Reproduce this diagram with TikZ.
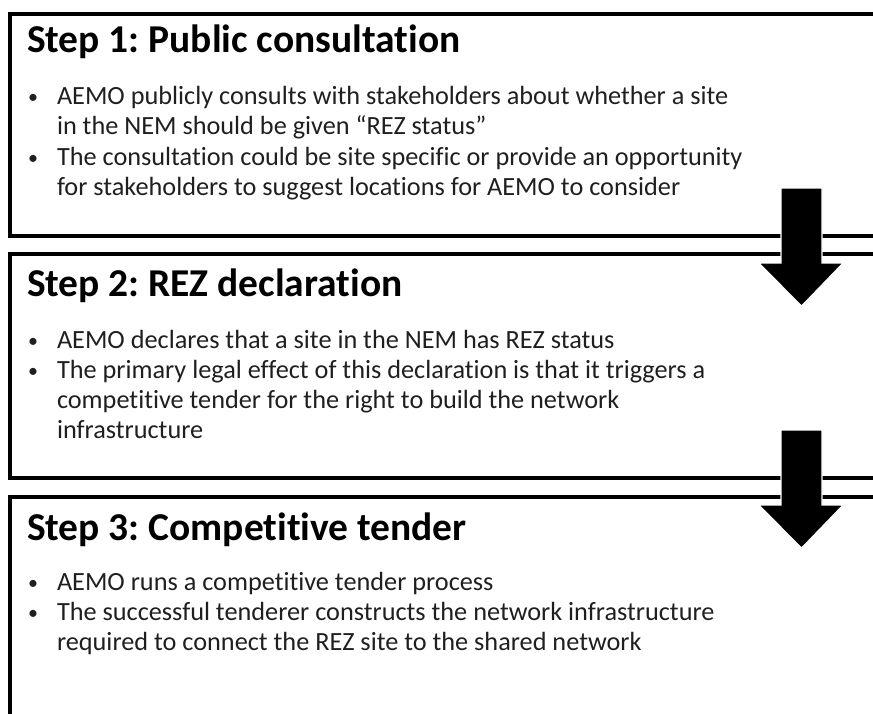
\documentclass[tikz,border=0pt]{standalone}
\usepackage{fontspec}
\setmainfont{Carlito}[Ligatures=NoCommon]
\usetikzlibrary{calc}
\frenchspacing

% lines of one bullet in a top-aligned tabular, so base = first line
\newcommand\itemlines[1]{\begin{tabular}[t]{@{}l@{}}#1\end{tabular}}

\begin{document}
\begin{tikzpicture}[
        % one unit is one pixel, y runs downwards
        x=0.75pt, y=-0.75pt,
        every node/.style={inner sep=0pt, outer sep=0pt},
        stepbox/.style={draw=black, line width=2.3pt},
        steptitle/.style={anchor=base west, font=\fontsize{29.6}{34}\selectfont\bfseries},
        itemtext/.style={anchor=base west, text=black!88,
            font=\fontsize{19.7}{22.5}\selectfont},
        itemdot/.style={anchor=base, text=black!88, font=\fontsize{15}{18}\selectfont},
        flowarrow/.style={fill=black, draw=white, line width=0.8pt}
    ]
        \useasboundingbox (0,0) rectangle (873,713);
        \clip (0,0) rectangle (873,713);

        % Step boxes (they run past the right edge)
        \draw[stepbox] (10,14) rectangle (900,236);
        \draw[stepbox] (10,254) rectangle (900,478);
        \draw[stepbox] (10,497) rectangle (900,740);

        % Step 1
        \node[steptitle] (title1) at (27,53) {Step 1: Public consultation};
        \node[itemtext] (item1a) at (57,105) {\itemlines{%
            AEMO publicly consults with stakeholders about whether a site\\
            in the NEM should be given “REZ status”}};
        \node[itemdot] (dot1a) at ($(item1a.base west)+(-24,-1)$) {•};
        \node[itemtext] (item1b) at (57,165) {\itemlines{%
            The consultation could be site specific or provide an opportunity\\
            for stakeholders to suggest locations for AEMO to consider}};
        \node[itemdot] (dot1b) at ($(item1b.base west)+(-24,-1)$) {•};

        % Step 2
        \node[steptitle] (title2) at (27,296) {Step 2: REZ declaration};
        \node[itemtext] (item2a) at (57,348) {\itemlines{%
            AEMO declares that a site in the NEM has REZ status}};
        \node[itemdot] (dot2a) at ($(item2a.base west)+(-24,-1)$) {•};
        \node[itemtext] (item2b) at (57,378) {\itemlines{%
            The primary legal effect of this declaration is that it triggers a\\
            competitive tender for the right to build the network\\
            infrastructure}};
        \node[itemdot] (dot2b) at ($(item2b.base west)+(-24,-1)$) {•};

        % Step 3
        \node[steptitle] (title3) at (27,540) {Step 3: Competitive tender};
        \node[itemtext] (item3a) at (57,590) {\itemlines{%
            AEMO runs a competitive tender process}};
        \node[itemdot] (dot3a) at ($(item3a.base west)+(-24,-1)$) {•};
        \node[itemtext] (item3b) at (57,620) {\itemlines{%
            The successful tenderer constructs the network infrastructure\\
            required to connect the REZ site to the shared network}};
        \node[itemdot] (dot3b) at ($(item3b.base west)+(-24,-1)$) {•};

        % Block arrows between the steps
        \foreach \top in {188,430} {
            \filldraw[flowarrow] (781,\top) -- (822,\top) -- (822,\top+75)
                -- (843,\top+75) -- (801.5,\top+118) -- (759,\top+75)
                -- (781,\top+75) -- cycle;
        }
    \end{tikzpicture}
\end{document}
